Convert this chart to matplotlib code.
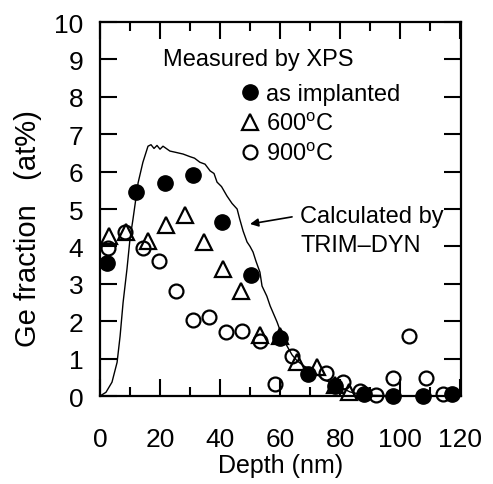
import matplotlib
matplotlib.use("Agg")
import matplotlib.pyplot as plt

plt.rcParams['font.family'] = ['Liberation Sans', 'DejaVu Sans']
plt.rcParams['mathtext.fontset'] = 'custom'
plt.rcParams['mathtext.rm'] = 'Liberation Sans'

# TRIM-DYN calculated profile
trim_x = [0, 2, 4, 5.7, 6.7, 7.7, 9, 10, 11, 12.7, 14.3, 16, 17, 18, 19, 20, 21,
          23.3, 25, 27.7, 30, 31.5, 33.3, 35, 36.7, 38, 39, 40.5, 42.3, 44, 45.7,
          46.5, 47.7, 49, 50, 51, 52, 53.3, 54, 55.6, 56.7, 59, 60.5, 62.3, 64,
          65.7, 68, 70, 72, 74.3, 77, 79, 81, 83.3, 86, 90, 95, 100, 120]
trim_y = [0, 0.1, 0.37, 0.9, 1.6, 2.5, 3.4, 4.2, 4.73, 5.7, 6.25, 6.68, 6.72, 6.62,
          6.7, 6.6, 6.68, 6.55, 6.52, 6.47, 6.4, 6.36, 6.25, 6.2, 6.02, 5.95, 5.72,
          5.6, 5.35, 5.15, 5.0, 4.75, 4.41, 4.12, 4.0, 3.85, 3.6, 3.31, 2.94, 2.67,
          2.41, 1.98, 1.65, 1.34, 1.1, 0.94, 0.8, 0.72, 0.6, 0.45, 0.35, 0.27, 0.2,
          0.11, 0.06, 0.02, 0.01, 0.0, 0.0]

# XPS measured, as implanted
imp_x = [2.5, 12, 21.7, 31, 40.7, 50.3, 60, 69.4, 78.3, 88, 97.5, 107.5, 117.3]
imp_y = [3.57, 5.45, 5.7, 5.9, 4.65, 3.24, 1.55, 0.6, 0.27, 0.05, 0.0, 0.0, 0.05]

# 600 C anneal
t600_x = [3, 8.7, 16, 22, 28.3, 34.7, 41, 47, 53.3, 60, 65.7, 72.3, 78.3, 83]
t600_y = [4.28, 4.38, 4.15, 4.57, 4.84, 4.12, 3.40, 2.81, 1.62, 1.6, 0.92, 0.77, 0.3, 0.12]

# 900 C anneal
t900_x = [2.7, 8.3, 14.3, 19.8, 25.3, 31, 36.3, 42, 47.3, 53.3, 58.3, 64, 75.3,
          81, 86.7, 92, 97.5, 103, 108.5, 114.3]
t900_y = [3.95, 4.38, 3.95, 3.6, 2.8, 2.02, 2.12, 1.72, 1.74, 1.47, 0.32, 1.07, 0.62,
          0.37, 0.13, 0.03, 0.48, 1.6, 0.48, 0.05]

fig = plt.figure(figsize=(4.93, 4.85), dpi=100)
ax = fig.add_axes([0.2028, 0.1814, 0.7323, 0.7711])

ax.plot(trim_x, trim_y, color='black', lw=1.0)
ax.plot(imp_x, imp_y, 'o', color='black', ms=11, clip_on=False, label='as implanted')
ax.plot(t600_x, t600_y, '^', mfc='none', mec='black', mew=1.6, ms=11, clip_on=False,
        label='600$^\\mathrm{o}$C')
ax.plot(t900_x, t900_y, 'o', mfc='none', mec='black', mew=1.6, ms=10, clip_on=False,
        label='900$^\\mathrm{o}$C')

ax.set_xlim(0, 120.3)
ax.set_ylim(0, 10)
ax.set_xticks(range(0, 121, 20))
ax.set_xticks(range(10, 121, 20), minor=True)
ax.set_yticks(range(0, 11))
ax.tick_params(which='both', direction='in', top=True, right=True, width=1.5, labelsize=19)
ax.tick_params(which='major', length=12)
ax.tick_params(which='minor', length=6.5)
ax.tick_params(axis='x', pad=22)
ax.tick_params(axis='y', pad=12)
for s in ax.spines.values():
    s.set_linewidth(1.6)

ax.set_xlabel('Depth (nm)', fontsize=18, labelpad=2)
ax.set_ylabel('Ge fraction   (at%)', fontsize=21)
ax.yaxis.set_label_coords(-0.16, 0.45)

ax.text(21, 9.0, 'Measured by XPS', fontsize=17, va='center')
leg = ax.legend(loc='upper left', bbox_to_anchor=(0.35, 0.862), frameon=False,
                fontsize=17, handletextpad=0.1, handlelength=1.2, labelspacing=0.3,
                borderaxespad=0)

# arrow from label to the TRIM-DYN curve
ax.annotate('', xy=(50, 4.6), xytext=(64, 4.79),
            arrowprops=dict(arrowstyle='-|>', color='black', lw=1.2,
                            shrinkA=0, shrinkB=0, mutation_scale=12))
ax.text(66.7, 4.65, 'Calculated by', fontsize=17, va='baseline')
ax.text(66.7, 3.88, 'TRIM\u2013DYN', fontsize=17, va='baseline')

fig.savefig('out.png', dpi=100)
